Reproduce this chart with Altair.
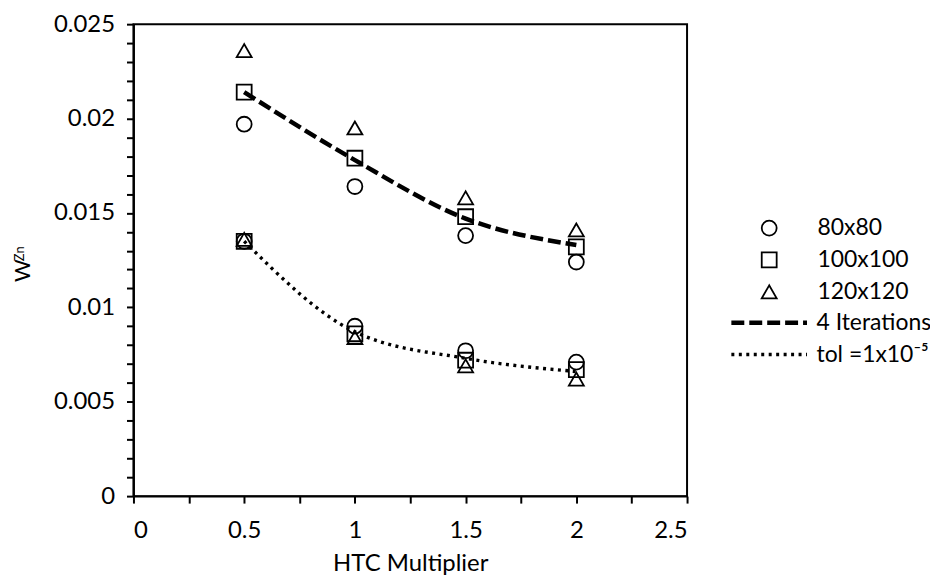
import altair as alt
import pandas as pd

# ---- data ----
multipliers = [0.5, 1.0, 1.5, 2.0]
meshes = ["80x80", "100x100", "120x120"]
methods = ["4 Iterations", "tol =1x10\u207b\u2075"]

iter4_80 = [0.0197, 0.0164, 0.0138, 0.0124]
iter4_100 = [0.0214, 0.0179, 0.0148, 0.0132]
iter4_120 = [0.0236, 0.0195, 0.0158, 0.0141]
tol_80 = [0.0135, 0.0090, 0.0077, 0.0071]
tol_100 = [0.0135, 0.0086, 0.0072, 0.0067]
tol_120 = [0.0136, 0.0084, 0.0069, 0.0062]
line_iter4 = [0.0214, 0.0178, 0.0147, 0.0133]
line_tol = [0.0135, 0.0087, 0.0073, 0.0066]

x_ticks = [i * 0.25 for i in range(11)]
y_ticks = [i / 1000 for i in range(26)]

# ---- tables ----
pts = []
for mesh, a, b in [("80x80", iter4_80, tol_80), ("100x100", iter4_100, tol_100), ("120x120", iter4_120, tol_120)]:
    for x, v in zip(multipliers, a):
        pts.append({"x": x, "y": v, "mesh": mesh, "grp": "iter"})
    for x, v in zip(multipliers, b):
        pts.append({"x": x, "y": v, "mesh": mesh, "grp": "tol"})
pts = pd.DataFrame(pts)

lines = []
for m, arr in zip(methods, [line_iter4, line_tol]):
    for x, v in zip(multipliers, arr):
        lines.append({"x": x, "y": v, "method": m})
lines = pd.DataFrame(lines)

FONT = "Lato"

x_enc = alt.X("x:Q", scale=alt.Scale(domain=[0, 2.5], nice=False),
              axis=alt.Axis(values=x_ticks, format="~g", title="HTC Multiplier",
                            labelExpr="round(datum.value*4) % 2 == 0 ? datum.label : ''",
                            labelOverlap=False, labelPadding=16, titlePadding=9,
                            titleFontSize=24))
y_enc = alt.Y("y:Q", scale=alt.Scale(domain=[0, 0.025], nice=False),
              axis=alt.Axis(values=y_ticks, format="~g", title=None,
                            labelExpr="round(datum.value*1000) % 5 == 0 ? datum.label : ''",
                            labelOverlap=False, labelPadding=12))

line_legend = alt.Legend(title=None, orient="none", legendX=598, legendY=284,
                         symbolSize=5776, labelOffset=7, clipHeight=31.6, rowPadding=0,
                         symbolStrokeColor="black", padding=0)

line_layer = alt.Chart(lines).mark_line(color="black", interpolate="monotone").encode(
    x=x_enc, y=y_enc,
    detail="method:N",
    strokeDash=alt.StrokeDash("method:N",
        scale=alt.Scale(domain=methods, range=[[13, 5], [3, 4.5]]),
        legend=line_legend),
    strokeWidth=alt.StrokeWidth("method:N",
        scale=alt.Scale(domain=methods, range=[4.5, 3.4]),
        legend=line_legend),
)

point_layer = alt.Chart(pts).mark_point(filled=False, size=225, strokeWidth=1.8, opacity=1).encode(
    x=x_enc, y=y_enc,
    color=alt.value("black"),
    shape=alt.Shape("mesh:N",
        scale=alt.Scale(domain=meshes, range=["circle", "square", "triangle-up"]),
        legend=alt.Legend(title=None, orient="none", legendX=627, legendY=189,
                          symbolSize=225, symbolStrokeWidth=1.8, symbolStrokeColor="black",
                          labelOffset=37, clipHeight=31.6, rowPadding=0, padding=0)),
)

w_title = alt.Chart(pd.DataFrame({"t": ["W"]})).mark_text(
    angle=270, align="left", baseline="middle", fontSize=22, font=FONT, color="black"
).encode(text="t:N", x=alt.value(-111), y=alt.value(259))

zn_title = alt.Chart(pd.DataFrame({"t": ["Zn"]})).mark_text(
    angle=270, align="left", baseline="middle", fontSize=13, font=FONT, color="black"
).encode(text="t:N", x=alt.value(-114), y=alt.value(238))

chart = alt.layer(line_layer, point_layer, w_title, zn_title).properties(
    width=556, height=474,
    autosize=alt.AutoSizeParams(type="none"),
    padding={"left": 126, "top": 15, "right": 244, "bottom": 82},
).configure_view(
    stroke="black", strokeWidth=2
).configure_axis(
    grid=False, domainColor="black", domainWidth=2, tickColor="black", tickWidth=2,
    tickSize=7, labelColor="black", labelFont=FONT, labelFontSize=24,
    titleFont=FONT, titleFontSize=25, titleFontWeight="normal", titleColor="black",
).configure_legend(
    labelFont=FONT, labelFontSize=23, labelColor="black", labelLimit=300,
)

chart.save("out.html", embed_options={"renderer": "svg", "actions": False})
